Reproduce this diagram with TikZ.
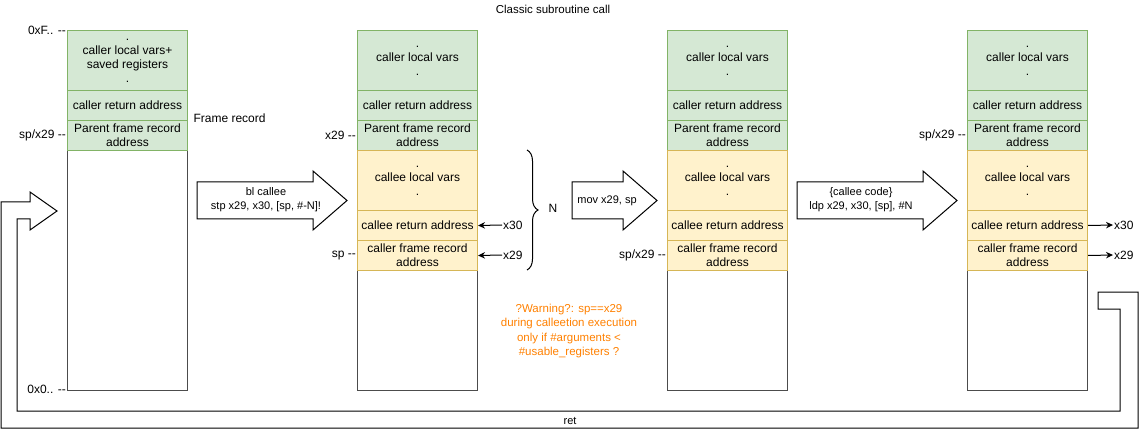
\documentclass[tikz,border=0pt]{standalone}
\usepackage{fontspec}
\setmainfont{Liberation Sans}
\usetikzlibrary{arrows.meta,decorations.pathreplacing}

\definecolor{cellgreen}{HTML}{D5E8D4}
\definecolor{edgegreen}{HTML}{82B366}
\definecolor{cellyellow}{HTML}{FFF2CC}
\definecolor{edgeyellow}{HTML}{D6B656}
\definecolor{warnorange}{HTML}{FF8000}

\tikzset{
	cell/.style={draw, line width=1pt, anchor=north west, minimum width=120pt, inner sep=0pt, align=center, font=\fontsize{12}{14}\selectfont},
	callercell/.style={cell, draw=edgegreen, fill=cellgreen},
	calleecell/.style={cell, draw=edgeyellow, fill=cellyellow},
	memcell/.style={cell, draw=black!70, fill=white},
	sidelabel/.style={anchor=east, inner sep=1pt, font=\fontsize{12}{14}\selectfont},
	reglabel/.style={anchor=west, inner sep=1pt, font=\fontsize{12}{14}\selectfont},
	regarrow/.style={line width=1pt, -{Stealth[length=7pt,width=6.5pt]}},
	blockarrow/.style={draw=black, line width=1pt, fill=white, line join=miter},
	steptext/.style={align=center, font=\fontsize{11}{14}\selectfont}
}

\begin{document}
\begin{tikzpicture}[x=1pt,y=-1pt]
	\useasboundingbox (0,0) rectangle (1139,430);
	\node[font=\fontsize{11.5}{13}\selectfont] (title) at (553,9) {Classic subroutine call};

	% caller stack before the call
	\node[memcell, minimum height=240pt] (mem1) at (67,150) {};
	\node[callercell, minimum height=60pt] (vars1) at (67,30) {.\\caller local vars+\\saved registers\\.};
	\node[callercell, minimum height=30pt] (ret1) at (67,90) {caller return address};
	\node[callercell, minimum height=30pt] (fp1) at (67,120) {Parent frame record\\address};
	\node[sidelabel] (top1) at (vars1.north west) {0xF.. -{}-};
	\node[sidelabel] (sp1) at (fp1.west) {sp/x29 -{}-};
	\node[sidelabel] (bot1) at ([yshift=2pt]mem1.south west) {0x0.. -{}-};
	\node[anchor=west, font=\fontsize{12}{14}\selectfont] (frame) at (190,118) {Frame record};

	% the three stacks after each step
	\foreach \col/\x in {2/357,3/667,4/967} {
		\node[memcell, minimum height=120pt] (mem\col) at (\x,270) {};
		\node[callercell, minimum height=60pt] (vars\col) at (\x,30) {.\\caller local vars\\.};
		\node[callercell, minimum height=30pt] (ret\col) at (\x,90) {caller return address};
		\node[callercell, minimum height=30pt] (fp\col) at (\x,120) {Parent frame record\\address};
		\node[calleecell, minimum height=60pt] (cvars\col) at (\x,150) {.\\callee local vars\\.};
		\node[calleecell, minimum height=30pt] (cret\col) at (\x,210) {callee return address};
		\node[calleecell, minimum height=30pt] (cfp\col) at (\x,240) {caller frame record\\address};
	}
	\node[sidelabel] (fpmark2) at (fp2.west) {x29 -{}-};
	\node[sidelabel] (spmark2) at (cfp2.west) {sp -{}-};
	\node[sidelabel] (spmark3) at (cfp3.west) {sp/x29 -{}-};
	\node[sidelabel] (spmark4) at (fp4.west) {sp/x29 -{}-};

	% registers
	\node[reglabel] (inx30) at (502,225) {x30};
	\node[reglabel] (inx29) at (502,255) {x29};
	\draw[regarrow] (inx30.west) -- (cret2.east);
	\draw[regarrow] (inx29.west) -- (cfp2.east);
	\node[reglabel] (outx30) at (1113,225) {x30};
	\node[reglabel] (outx29) at (1113,255) {x29};
	\draw[regarrow] (cret4.east) -- (outx30.west);
	\draw[regarrow] (cfp4.east) -- (outx29.west);

	% frame size
	\draw[line width=1pt, decorate, decoration={brace, amplitude=11pt}] (527,150) -- (527,270);
	\node[font=\fontsize{12}{14}\selectfont] (size) at (553,208) {N};

	% steps
	\draw[blockarrow] (197,182) -- (313,182) -- (313,171) -- (347,200.5) -- (313,230) -- (313,219) -- (197,219) -- cycle;
	\node[steptext] (blcall) at (266,200) {bl callee\\stp x29, x30, [sp, \#-N]!};
	\draw[blockarrow] (572,182) -- (623,182) -- (623,171) -- (657,200.5) -- (623,230) -- (623,219) -- (572,219) -- cycle;
	\node[steptext] (movfp) at (607,201) {mov x29, sp};
	\draw[blockarrow] (797,182) -- (923,182) -- (923,171) -- (957,200.5) -- (923,230) -- (923,219) -- (797,219) -- cycle;
	\node[steptext] (ldpret) at (861,200) {\{callee code\}\\ldp x29, x30, [sp], \#N};

	\node[align=center, text=warnorange, font=\fontsize{11.5}{14.5}\selectfont] (warning) at (569,331) {?Warning?: sp==x29\\during calleetion execution\\only if \#arguments <\\\#usable\_registers ?};

	% return path
	\draw[blockarrow, fill=none] (1098,292) -| (1138,428) -| (1,202) -- (30,202) -- (30,192) -- (57,211) -- (30,230) -- (30,219) -- (17,219) |- (1120,411) |- (1098,309) -- cycle;
	\node[font=\fontsize{11}{13}\selectfont] (retlabel) at (570,421) {ret};
\end{tikzpicture}
\end{document}
